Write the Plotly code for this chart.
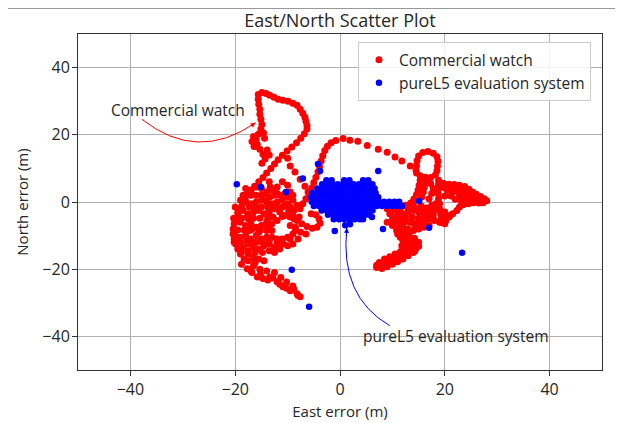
import plotly.graph_objects as go

# ---------------- data ----------------
x_ticks = [-40, -20, 0, 20, 40]
x_tick_labels = ["\u221240", "\u221220", "0", "20", "40"]
y_ticks = [-40, -20, 0, 20, 40]
y_tick_labels = ["\u221240", "\u221220", "0", "20", "40"]

# Commercial watch track (East, North) in metres, segment by segment
red_loop = [(-14.3, 12.8), (-14.7, 14.2), (-15.3, 15.7), (-15.8, 17.2), (-16.0, 18.7), (-15.6, 20.2),
            (-15.1, 21.7), (-14.9, 23.1), (-15.1, 24.6), (-15.3, 26.1), (-15.3, 27.6), (-15.5, 29.1),
            (-15.6, 30.6), (-15.6, 32.0), (-14.9, 32.6), (-14.1, 32.3), (-13.4, 31.8), (-12.6, 31.2),
            (-11.8, 30.6), (-10.9, 30.3), (-9.9, 30.0), (-9.0, 29.4), (-8.2, 28.8), (-7.6, 27.6),
            (-7.1, 26.4), (-6.7, 25.2), (-6.5, 24.0), (-6.3, 22.8), (-6.3, 21.7), (-6.8, 20.3),
            (-7.5, 19.0), (-8.3, 17.6), (-9.2, 16.4), (-10.1, 15.2), (-11.0, 13.9), (-11.8, 12.6),
            (-12.5, 11.3), (-13.2, 10.0), (-14.0, 8.6), (-14.7, 7.3), (-15.5, 6.0), (-16.3, 4.7),
            (-17.0, 3.5), (-17.6, 2.3), (-18.1, 1.0), (-16.4, 16.5), (-16.8, 18.0), (-16.5, 19.5),
            (-14.6, 20.5), (-14.4, 19.0), (-13.9, 15.5), (-13.5, 14.0), (-14.9, 11.5)]
red_branch = [(-10.0, 13.0), (-9.5, 10.7), (-8.6, 8.9), (-7.6, 6.8), (-6.7, 4.7), (-6.1, 3.0)]
red_arc = [(-7.6, -2.0), (-7.1, -0.5), (-6.5, 1.0), (-5.9, 2.6), (-5.4, 4.2), (-5.0, 5.8), (-4.6, 7.4),
           (-4.2, 9.0), (-3.9, 10.6), (-3.6, 12.2), (-3.3, 13.8), (-2.9, 15.3), (-2.4, 16.6), (-1.7, 17.6),
           (-0.8, 18.3), (0.6, 18.9), (1.9, 18.4), (3.4, 18.1), (5.2, 16.8), (7.3, 15.7), (9.0, 14.8),
           (10.5, 13.4), (11.8, 12.2), (13.4, 10.7), (14.5, 9.4)]
red_hook = [(14.6, 10.8), (14.7, 12.3), (15.0, 13.7), (15.8, 14.7), (16.8, 15.0), (17.8, 14.5), (18.5, 13.5),
            (18.7, 12.1), (18.6, 10.7), (18.5, 9.3), (18.2, 8.0), (17.3, 7.3), (16.3, 7.4), (15.3, 7.8),
            (14.6, 8.6), (15.3, 6.5), (15.1, 5.0), (14.9, 3.6), (14.6, 2.2), (14.1, 0.9), (13.5, -0.3),
            (12.8, -1.3), (16.3, 6.0), (16.1, 4.5), (15.9, 3.0), (15.6, 1.5), (18.8, 6.5), (19.3, 5.6),
            (17.3, 5.5), (17.8, 4.0), (17.5, 2.5), (17.0, 1.0)]
red_arm = [(18.8, 5.2), (19.8, 5.5), (20.8, 5.3), (21.8, 5.2), (22.8, 5.0), (23.8, 4.6), (24.6, 3.8),
           (25.3, 3.0), (26.0, 2.3), (26.8, 1.6), (27.5, 1.0), (28.0, 0.4), (27.3, -0.2), (26.5, -0.3),
           (25.5, -0.2), (24.5, -0.5), (23.5, -0.8), (22.8, -1.5), (22.3, -2.5), (21.5, -3.5), (20.8, -4.5),
           (20.2, -5.5), (19.5, -6.2), (18.8, 4.0), (18.7, 2.5), (18.8, 1.0), (19.0, -0.5), (19.0, -2.0),
           (19.2, -3.5), (19.3, -5.0), (20.5, 3.5), (21.5, 3.0), (22.5, 3.3), (23.5, 3.0), (24.5, 2.2),
           (25.5, 1.2), (23.0, 1.5), (22.0, 0.8), (21.2, 1.8), (20.0, 1.8), (24.0, 0.8), (26.5, 0.8),
           (20.0, 4.2), (21.0, 4.3), (22.0, 4.2), (23.0, 4.0), (24.0, 3.5), (25.0, 2.5), (26.0, 1.5),
           (27.0, 0.2), (22.8, 2.3), (23.8, 2.0), (24.8, 1.2), (25.8, 0.6), (23.2, 0.0), (24.2, 0.0),
           (21.0, -4.0), (20.0, -3.0), (19.8, -4.8)]
red_band = [(10.0, -2.5), (11.0, -3.0), (12.0, -3.5), (13.0, -3.0), (14.0, -2.5), (15.0, -3.0), (16.0, -3.5),
            (17.0, -3.0), (18.0, -2.5), (12.5, -1.0), (14.0, -0.8), (15.5, -1.2), (16.5, -1.8), (17.5, -1.0),
            (18.3, -0.5), (9.5, -3.5), (9.0, -2.0), (10.5, -1.5), (11.5, -2.0), (13.0, -1.8), (14.8, -2.0),
            (16.0, -2.5), (17.3, -2.2), (18.5, -1.5)]
red_lower = [(9.0, -6.0), (10.0, -7.0), (11.0, -8.0), (12.0, -8.5), (13.0, -8.0), (14.0, -8.5), (15.0, -8.0),
             (16.0, -7.5), (17.0, -7.0), (17.0, -5.0), (18.0, -5.5), (19.0, -6.0), (20.0, -6.5), (16.0, -6.0),
             (15.0, -6.5), (14.0, -6.3), (13.2, -6.0), (10.0, -4.5), (10.5, -5.5), (11.5, -5.2), (12.2, -5.5),
             (11.0, -9.5), (11.5, -10.5), (12.0, -11.5), (12.5, -12.5), (13.2, -10.0), (13.5, -11.3),
             (13.8, -12.5), (12.8, -9.5), (11.0, -4.5), (12.5, -4.5), (13.8, -4.5), (15.0, -4.8), (16.3, -4.5),
             (17.8, -4.0), (10.0, -5.8), (12.0, -6.8), (11.2, -6.5), (14.5, -7.2), (10.8, -8.5), (12.2, -10.0),
             (11.8, -13.0), (13.0, -12.0), (12.5, -11.0), (14.2, -10.8)]
red_blob = [(7.0, -19.5), (8.0, -19.8), (9.0, -19.3), (10.0, -18.5), (11.0, -17.8), (12.0, -17.0), (13.0, -16.0),
            (14.0, -15.0), (14.5, -13.8), (13.5, -13.5), (12.5, -14.0), (11.5, -14.8), (10.5, -15.5),
            (9.5, -16.3), (8.5, -17.0), (7.5, -18.0), (7.0, -18.8), (8.0, -18.3), (9.0, -17.8), (10.0, -17.0),
            (11.0, -16.3), (12.0, -15.5), (13.0, -14.8), (14.0, -14.0), (15.0, -13.2), (15.0, -12.0),
            (14.3, -12.3), (7.5, -19.2), (8.5, -18.7), (9.5, -18.2), (10.5, -17.5), (11.5, -16.5),
            (12.5, -15.8), (13.5, -15.0), (14.3, -14.5)]
red_diag = [(-18.6, -0.5), (-19.1, -2.0), (-19.5, -3.5), (-19.9, -5.0), (-20.2, -6.5), (-20.4, -8.0),
            (-20.4, -9.5), (-20.2, -11.0), (-19.9, -12.5), (-19.5, -14.0), (-19.0, -15.5), (-18.3, -17.0)]
red_tail = [(-17.7, -19.9), (-16.8, -21.0), (-15.8, -22.3), (-14.7, -22.8), (-13.4, -22.3), (-12.0, -23.7),
            (-10.9, -25.2), (-9.5, -26.4), (-8.2, -27.3), (-7.6, -28.2), (-16.5, -19.0), (-15.3, -20.0),
            (-14.0, -20.5), (-12.5, -21.0), (-11.3, -22.5), (-10.2, -23.8), (-9.0, -25.0), (-18.8, -18.5),
            (-17.0, -20.5), (-15.2, -21.5), (-13.8, -23.2), (-12.8, -22.6), (-11.5, -24.5), (-10.2, -25.7),
            (-8.8, -26.0), (-8.0, -27.8)]
red_mass = [(-18.0, 4.0), (-17.0, 3.5), (-16.0, 4.5), (-15.0, 4.0), (-14.0, 3.0), (-13.0, 3.5), (-12.0, 2.5),
            (-19.0, 0.5), (-18.0, 0.0), (-17.0, -0.5), (-16.0, 0.0), (-15.0, 0.5), (-14.0, 0.0), (-13.0, -0.5),
            (-12.0, 0.0), (-11.0, 0.5), (-10.0, -0.5), (-19.5, -3.0), (-18.5, -2.5), (-17.5, -3.5),
            (-16.5, -3.0), (-15.5, -2.5), (-14.5, -3.5), (-13.5, -3.0), (-12.5, -2.0), (-11.5, -3.0),
            (-10.5, -4.0), (-9.5, -4.5), (-19.0, -6.0), (-18.0, -7.0), (-17.0, -6.5), (-16.0, -7.5),
            (-15.0, -7.0), (-14.0, -6.0), (-13.0, -6.5), (-12.0, -5.5), (-20.0, -10.0), (-19.0, -10.5),
            (-18.0, -10.0), (-17.0, -11.0), (-16.0, -10.0), (-15.0, -11.0), (-14.0, -10.5), (-13.0, -10.5),
            (-12.0, -11.0), (-11.0, -11.0), (-10.0, -10.5), (-9.0, -9.5), (-18.5, -13.5), (-17.5, -12.5),
            (-16.5, -13.5), (-15.5, -14.0), (-14.5, -13.0), (-13.5, -12.5), (-12.5, -13.5), (-11.5, -14.0),
            (-17.5, -15.5), (-16.5, -16.5), (-15.5, -17.0), (-17.0, 2.0), (-17.3, -1.5), (-17.5, -5.0),
            (-17.2, -8.5), (-16.8, -12.0), (-13.5, 6.0), (-13.3, 4.5), (-13.4, 1.5), (-13.4, -1.5),
            (-14.0, -8.5), (-15.5, -9.0), (-13.0, -8.5)]
red_mass_fill = [(-18.5, 2.0), (-16.0, 2.0), (-15.0, 2.0), (-14.5, 1.5), (-12.5, 2.0), (-11.5, 2.0),
                 (-10.0, 1.5), (-9.0, 2.0), (-20.0, -1.5), (-18.8, -1.5), (-16.2, -1.5), (-15.0, -1.5),
                 (-13.8, -1.5), (-12.2, -1.5), (-11.0, -1.5), (-9.5, -1.5), (-8.8, -2.5), (-20.3, -4.8),
                 (-18.8, -4.8), (-17.8, -4.5), (-16.5, -4.8), (-15.3, -4.8), (-13.8, -4.8), (-12.8, -4.5),
                 (-11.0, -4.3), (-8.8, -5.0), (-7.8, -4.5), (-19.5, -8.3), (-18.3, -8.3), (-16.8, -8.0),
                 (-15.2, -8.3), (-13.8, -7.5), (-9.5, -7.0), (-8.5, -7.5), (-20.2, -12.0), (-19.0, -12.0),
                 (-17.8, -11.5), (-16.0, -12.0), (-14.8, -12.0), (-13.5, -11.5), (-12.0, -12.3), (-10.8, -12.5),
                 (-9.5, -11.0), (-18.8, -15.0), (-17.5, -14.5), (-16.2, -15.0), (-14.8, -15.0), (-13.5, -14.5),
                 (-12.5, -15.0), (-17.5, -17.5), (-16.2, -18.0), (-14.5, -17.5)]
red_lobe = [(-10.5, -1.0), (-9.8, -2.5), (-9.0, -4.0), (-8.2, -5.5), (-7.3, -6.5), (-6.3, -7.3), (-5.3, -7.8),
            (-4.4, -7.5), (-3.8, -6.3), (-4.0, -5.0), (-4.6, -3.8), (-5.5, -3.5), (-6.5, -9.5), (-7.5, -9.0),
            (-8.5, -8.5), (-8.0, -11.0), (-9.0, -12.5), (-10.0, -13.0)]
red_extra = [(-11.0, 6.0), (-10.0, 5.0), (-9.5, 3.0), (-10.5, 2.5), (-12.0, 4.5), (-9.0, 0.5), (-8.2, -1.0)]

# pureL5 evaluation system: dense core, one row of East values per North value
blue_core_rows = [
    (6.5, [-2.6, -1.6, 0.8, 1.8, 4.4, 5.4]),
    (5.3, [-3.4, -2.4, -1.4, -0.4, 0.6, 1.6, 2.6, 3.6, 4.6, 5.6, 6.2]),
    (4.0, [-4.3, -3.3, -2.3, -1.3, -0.3, 0.7, 1.7, 2.7, 3.7, 4.7, 5.7, 6.6]),
    (2.7, [-5.3, -4.3, -3.3, -2.3, -1.3, -0.3, 0.7, 1.7, 2.7, 3.7, 4.7, 5.7, 6.8]),
    (1.4, [-5.5, -4.5, -3.5, -2.5, -1.5, -0.5, 0.5, 1.5, 2.5, 3.5, 4.5, 5.5, 6.5, 7.3]),
    (0.1, [-5.4, -4.4, -3.4, -2.4, -1.4, -0.4, 0.6, 1.6, 2.6, 3.6, 4.6, 5.6, 6.6, 7.4, 8.4, 9.4, 10.4, 11.3]),
    (-1.2, [-5.0, -4.0, -3.0, -2.0, -1.0, 0.0, 1.0, 2.0, 3.0, 4.0, 5.0, 6.0, 7.0, 8.0, 9.0, 10.0, 11.0, 11.8]),
    (-2.5, [-3.5, -2.5, -1.5, -0.5, 0.5, 1.5, 2.5, 3.5, 4.5, 5.5, 6.2]),
    (-3.8, [-2.3, -1.3, -0.3, 0.7, 1.7, 2.7, 3.7, 4.7, 5.5]),
    (-5.1, [-1.2, -0.2, 0.8, 1.8, 2.8, 3.8, 4.4]),
]
blue_outliers = [(-19.7, 5.3), (-15.1, 4.5), (-10.3, 3.0), (-7.1, 7.0), (-4.2, 11.3), (-3.8, 9.2), (7.3, 9.2),
                 (-1.0, -8.6), (1.0, -6.9), (1.9, -6.6), (6.1, -4.5), (8.2, -8.0), (15.1, 0.3), (17.0, -7.7),
                 (23.3, -15.1), (-9.2, -20.2), (-5.9, -31.2)]

# annotation anchors (data units)
red_label_pos = (-30.9, 27.4)
red_curve = [(-37.8, 24.6), (-27.2, 11.6), (-16.1, 23.6)]      # start, control, tip
red_head_tail = (-17.3, 22.3)
blue_label_pos = (22.2, -39.8)
blue_curve = [(9.5, -36.8), (-0.1, -28.2), (1.3, -7.7)]
blue_head_tail = (1.2, -10.5)

# ---------------- build ----------------
RED = "#ff0000"
BLUE = "#0000ff"
TXT = "#262626"
FONT = "Open Sans"
W, H = 623, 423
PAGE_OFFSET = 8          # the html page body margin shifts the figure by 8 px
ML, MT, PW, PH = 78 - PAGE_OFFSET, 34 - PAGE_OFFSET, 524, 336

red_segments = [red_loop, red_branch, red_arc, red_hook, red_arm, red_band, red_lower, red_blob,
                red_diag, red_tail, red_mass, red_mass_fill, red_lobe, red_extra]
red_x, red_y = [], []
for seg in red_segments:
    red_x += [p[0] for p in seg]
    red_y += [p[1] for p in seg]

blue_x, blue_y = [], []
for yv, xs in blue_core_rows:
    blue_x += xs
    blue_y += [yv] * len(xs)
blue_x += [p[0] for p in blue_outliers]
blue_y += [p[1] for p in blue_outliers]

fig = go.Figure()
fig.add_trace(go.Scatter(x=red_x, y=red_y, mode="markers", name="Commercial watch",
                         marker=dict(color=RED, size=7, line=dict(width=0))))
fig.add_trace(go.Scatter(x=blue_x, y=blue_y, mode="markers", name="pureL5 evaluation system",
                         marker=dict(color=BLUE, size=6.5, line=dict(width=0))))


def qpath(c):
    (x0, y0), (cx, cy), (x1, y1) = c
    return f"M {x0},{y0} Q {cx},{cy} {x1},{y1}"


top_rule_y = (PH + MT - 0.5) / PH
shapes = [
    dict(type="path", xref="x", yref="y", path=qpath(red_curve), line=dict(color=RED, width=1)),
    dict(type="path", xref="x", yref="y", path=qpath(blue_curve), line=dict(color=BLUE, width=1)),
    dict(type="line", xref="paper", yref="paper", x0=-ML / PW, x1=(W - ML) / PW, y0=top_rule_y, y1=top_rule_y,
         line=dict(color="#999999", width=1)),
]

annotations = [
    dict(x=red_label_pos[0], y=red_label_pos[1], xref="x", yref="y", text="Commercial watch",
         showarrow=False, font=dict(family=FONT, size=15.5, color=TXT)),
    dict(x=blue_label_pos[0], y=blue_label_pos[1], xref="x", yref="y", text="pureL5 evaluation system",
         showarrow=False, font=dict(family=FONT, size=15.5, color=TXT)),
    dict(x=red_curve[2][0], y=red_curve[2][1], ax=red_head_tail[0], ay=red_head_tail[1],
         xref="x", yref="y", axref="x", ayref="y", text="", showarrow=True, arrowhead=2,
         arrowsize=1, arrowwidth=1, arrowcolor=RED, standoff=0),
    dict(x=blue_curve[2][0], y=blue_curve[2][1], ax=blue_head_tail[0], ay=blue_head_tail[1],
         xref="x", yref="y", axref="x", ayref="y", text="", showarrow=True, arrowhead=2,
         arrowsize=1, arrowwidth=1, arrowcolor=BLUE, standoff=0),
]

axis_common = dict(showgrid=True, gridcolor="#b0b0b0", gridwidth=1, zeroline=False,
                   showline=True, mirror=True, linecolor="#333333", linewidth=1,
                   ticks="outside", ticklen=5, tickcolor="#333333", tickwidth=1, automargin=False,
                   tickfont=dict(family=FONT, size=16, color=TXT))

fig.update_layout(
    width=W, height=H,
    margin=dict(l=ML, r=W - ML - PW, t=MT, b=H - MT - PH, autoexpand=False),
    paper_bgcolor="white", plot_bgcolor="white",
    font=dict(family=FONT, size=15, color=TXT),
    title=dict(text="East/North Scatter Plot", xref="paper", x=0.5, xanchor="center",
               yref="container", y=1 - (20.5 - PAGE_OFFSET) / H, yanchor="middle", automargin=False,
               font=dict(family=FONT, size=18, color=TXT)),
    legend=dict(x=0.979, y=0.976, xanchor="right", yanchor="top", bgcolor="rgba(255,255,255,0.85)",
                bordercolor="#cccccc", borderwidth=1, itemwidth=30,
                font=dict(family=FONT, size=15.5, color=TXT)),
    xaxis=dict(range=[-50, 50], tickvals=x_ticks, ticktext=x_tick_labels,
               title=dict(text="East error (m)", standoff=7, font=dict(family=FONT, size=15, color=TXT)),
               **axis_common),
    yaxis=dict(range=[-50, 50], tickvals=y_ticks, ticktext=y_tick_labels, ticklabelstandoff=-1,
               title=dict(text="North error (m)", standoff=10, font=dict(family=FONT, size=15, color=TXT)),
               **axis_common),
    shapes=shapes,
    annotations=annotations,
    showlegend=True,
)

fig.write_html("out.html")
